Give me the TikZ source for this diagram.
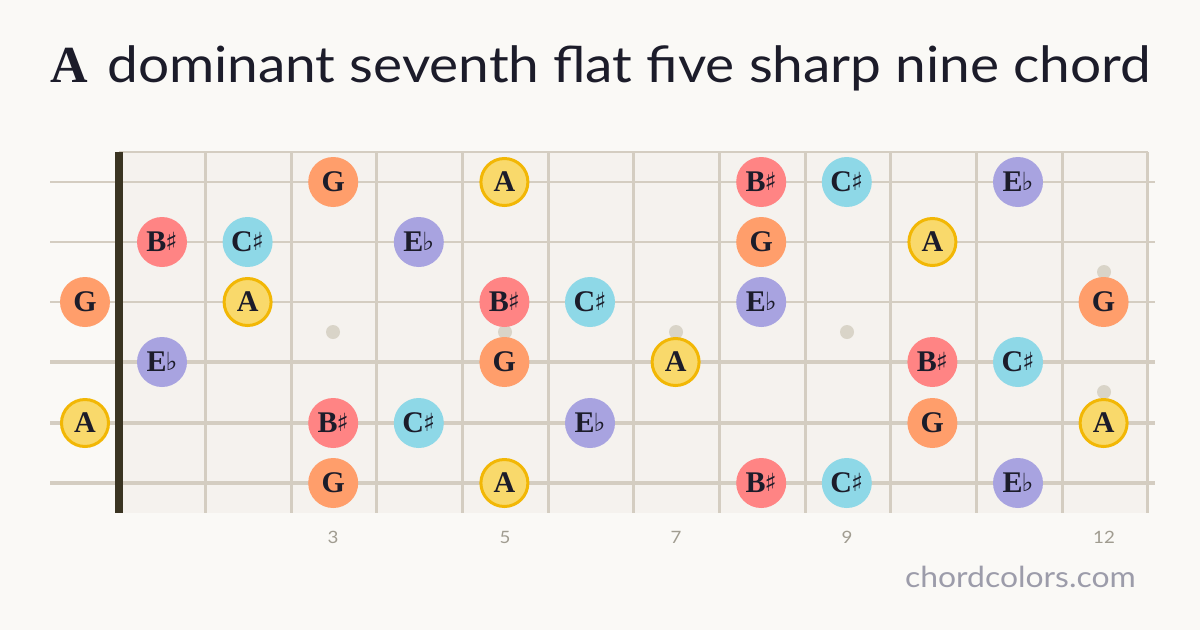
\documentclass[tikz,border=0pt]{standalone}
\usepackage{fontspec}
\setmainfont{Liberation Serif}
\newfontfamily\titlefont[FakeStretch=1.1]{Lato}
\newfontfamily\accfont{DejaVu Sans}
\definecolor{bg}{HTML}{FAF9F6}
\definecolor{board}{HTML}{F5F2EE}
\definecolor{fretc}{HTML}{D4CDC1}
\definecolor{nutc}{HTML}{3A3422}
\definecolor{dotc}{HTML}{D9D4C8}
\definecolor{ink}{HTML}{1C1C2A}
\definecolor{cG}{HTML}{FF9E6B}
\definecolor{cA}{HTML}{F9D96B}
\definecolor{cAb}{HTML}{F2B705}
\definecolor{cB}{HTML}{FF8484}
\definecolor{cC}{HTML}{8ED8E7}
\definecolor{cE}{HTML}{A8A3E0}
\definecolor{numc}{HTML}{A09C90}
\definecolor{urlc}{HTML}{9C9CAA}
\newcommand{\shp}{{\accfont\fontsize{25}{25}\selectfont\kern-1pt\raisebox{1pt}{♯}}}
\newcommand{\flt}{{\accfont\fontsize{25}{25}\selectfont\kern-1pt\raisebox{1pt}{♭}}}
\tikzset{
  note/.style={circle, minimum size=50pt, inner sep=0pt, text=ink,
    font=\fontsize{30}{30}\selectfont\bfseries},
  nG/.style={note, fill=cG},
  nA/.style={note, fill=cA, draw=cAb, line width=3pt, minimum size=47pt},
  nB/.style={note, fill=cB},
  nC/.style={note, fill=cC},
  nE/.style={note, fill=cE},
  fretline/.style={draw=fretc, line width=3pt},
  inlay/.style={fill=dotc},
  fnum/.style={text=numc, font=\titlefont\fontsize{17}{17}\selectfont},
}
\begin{document}
\begin{tikzpicture}[x=1pt,y=-1pt]
\useasboundingbox (0,0) rectangle (1200,630);
\fill[bg] (0,0) rectangle (1200,630);
% title
\node[anchor=base west, inner sep=0pt, text=ink] (tA) at (50,82)
  {\fontsize{52}{52}\selectfont\bfseries A};
\node[anchor=base west, inner sep=0pt, text=ink] (title) at (107,82)
  {\titlefont\fontsize{50}{50}\selectfont dominant seventh flat five sharp nine chord};
% board
\fill[board] (119,152) rectangle (1148,513);
\draw[fretc, line width=1.5pt] (119,152) -- (1148,152);
\foreach \x in {205,291,376,462,548,633,719,805,890,976,1062,1147}
  \draw[fretline] (\x,152) -- (\x,513);
% strings
\foreach \y/\w in {182/2, 242/2.4, 302/2.8, 362/3.2, 423/3.6, 483/4}
  \draw[fretc, line width=\w pt] (50,\y) -- (1155,\y);
% nut
\fill[nutc] (115,152) rectangle (123,513);
% inlays
\foreach \x/\y in {333/332, 505/332, 676/332, 847/332, 1104/272, 1104/392}
  \fill[inlay] (\x,\y) circle (7);
% notes
\foreach \s/\y/\f/\t/\lab in {
  1/182/3/nG/G, 1/182/5/nA/A, 1/182/8/nB/B\shp, 1/182/9/nC/C\shp, 1/182/11/nE/E\flt,
  2/242/1/nB/B\shp, 2/242/2/nC/C\shp, 2/242/4/nE/E\flt, 2/242/8/nG/G, 2/242/10/nA/A,
  3/302/0/nG/G, 3/302/2/nA/A, 3/302/5/nB/B\shp, 3/302/6/nC/C\shp, 3/302/8/nE/E\flt, 3/302/12/nG/G,
  4/362/1/nE/E\flt, 4/362/5/nG/G, 4/362/7/nA/A, 4/362/10/nB/B\shp, 4/362/11/nC/C\shp,
  5/423/0/nA/A, 5/423/3/nB/B\shp, 5/423/4/nC/C\shp, 5/423/6/nE/E\flt, 5/423/10/nG/G, 5/423/12/nA/A,
  6/483/3/nG/G, 6/483/5/nA/A, 6/483/8/nB/B\shp, 6/483/9/nC/C\shp, 6/483/11/nE/E\flt}
{
  \pgfmathsetmacro{\xx}{\f==0 ? 85 : 162+(\f-1)*85.6}
  \node[\t] (n-\s-\f) at (\xx,\y) {\lab};
}
% fret numbers
\node[fnum] (f3) at (333,537) {3};
\node[fnum] (f5) at (505,537) {5};
\node[fnum] (f7) at (676,537) {7};
\node[fnum] (f9) at (847,537) {9};
\node[fnum] (f12) at (1104,537) {12};
% url
\node[anchor=base east, inner sep=0pt, text=urlc, font=\titlefont\fontsize{29}{29}\selectfont] (url) at (1136,587) {chordcolors.com};
\end{tikzpicture}
\end{document}
